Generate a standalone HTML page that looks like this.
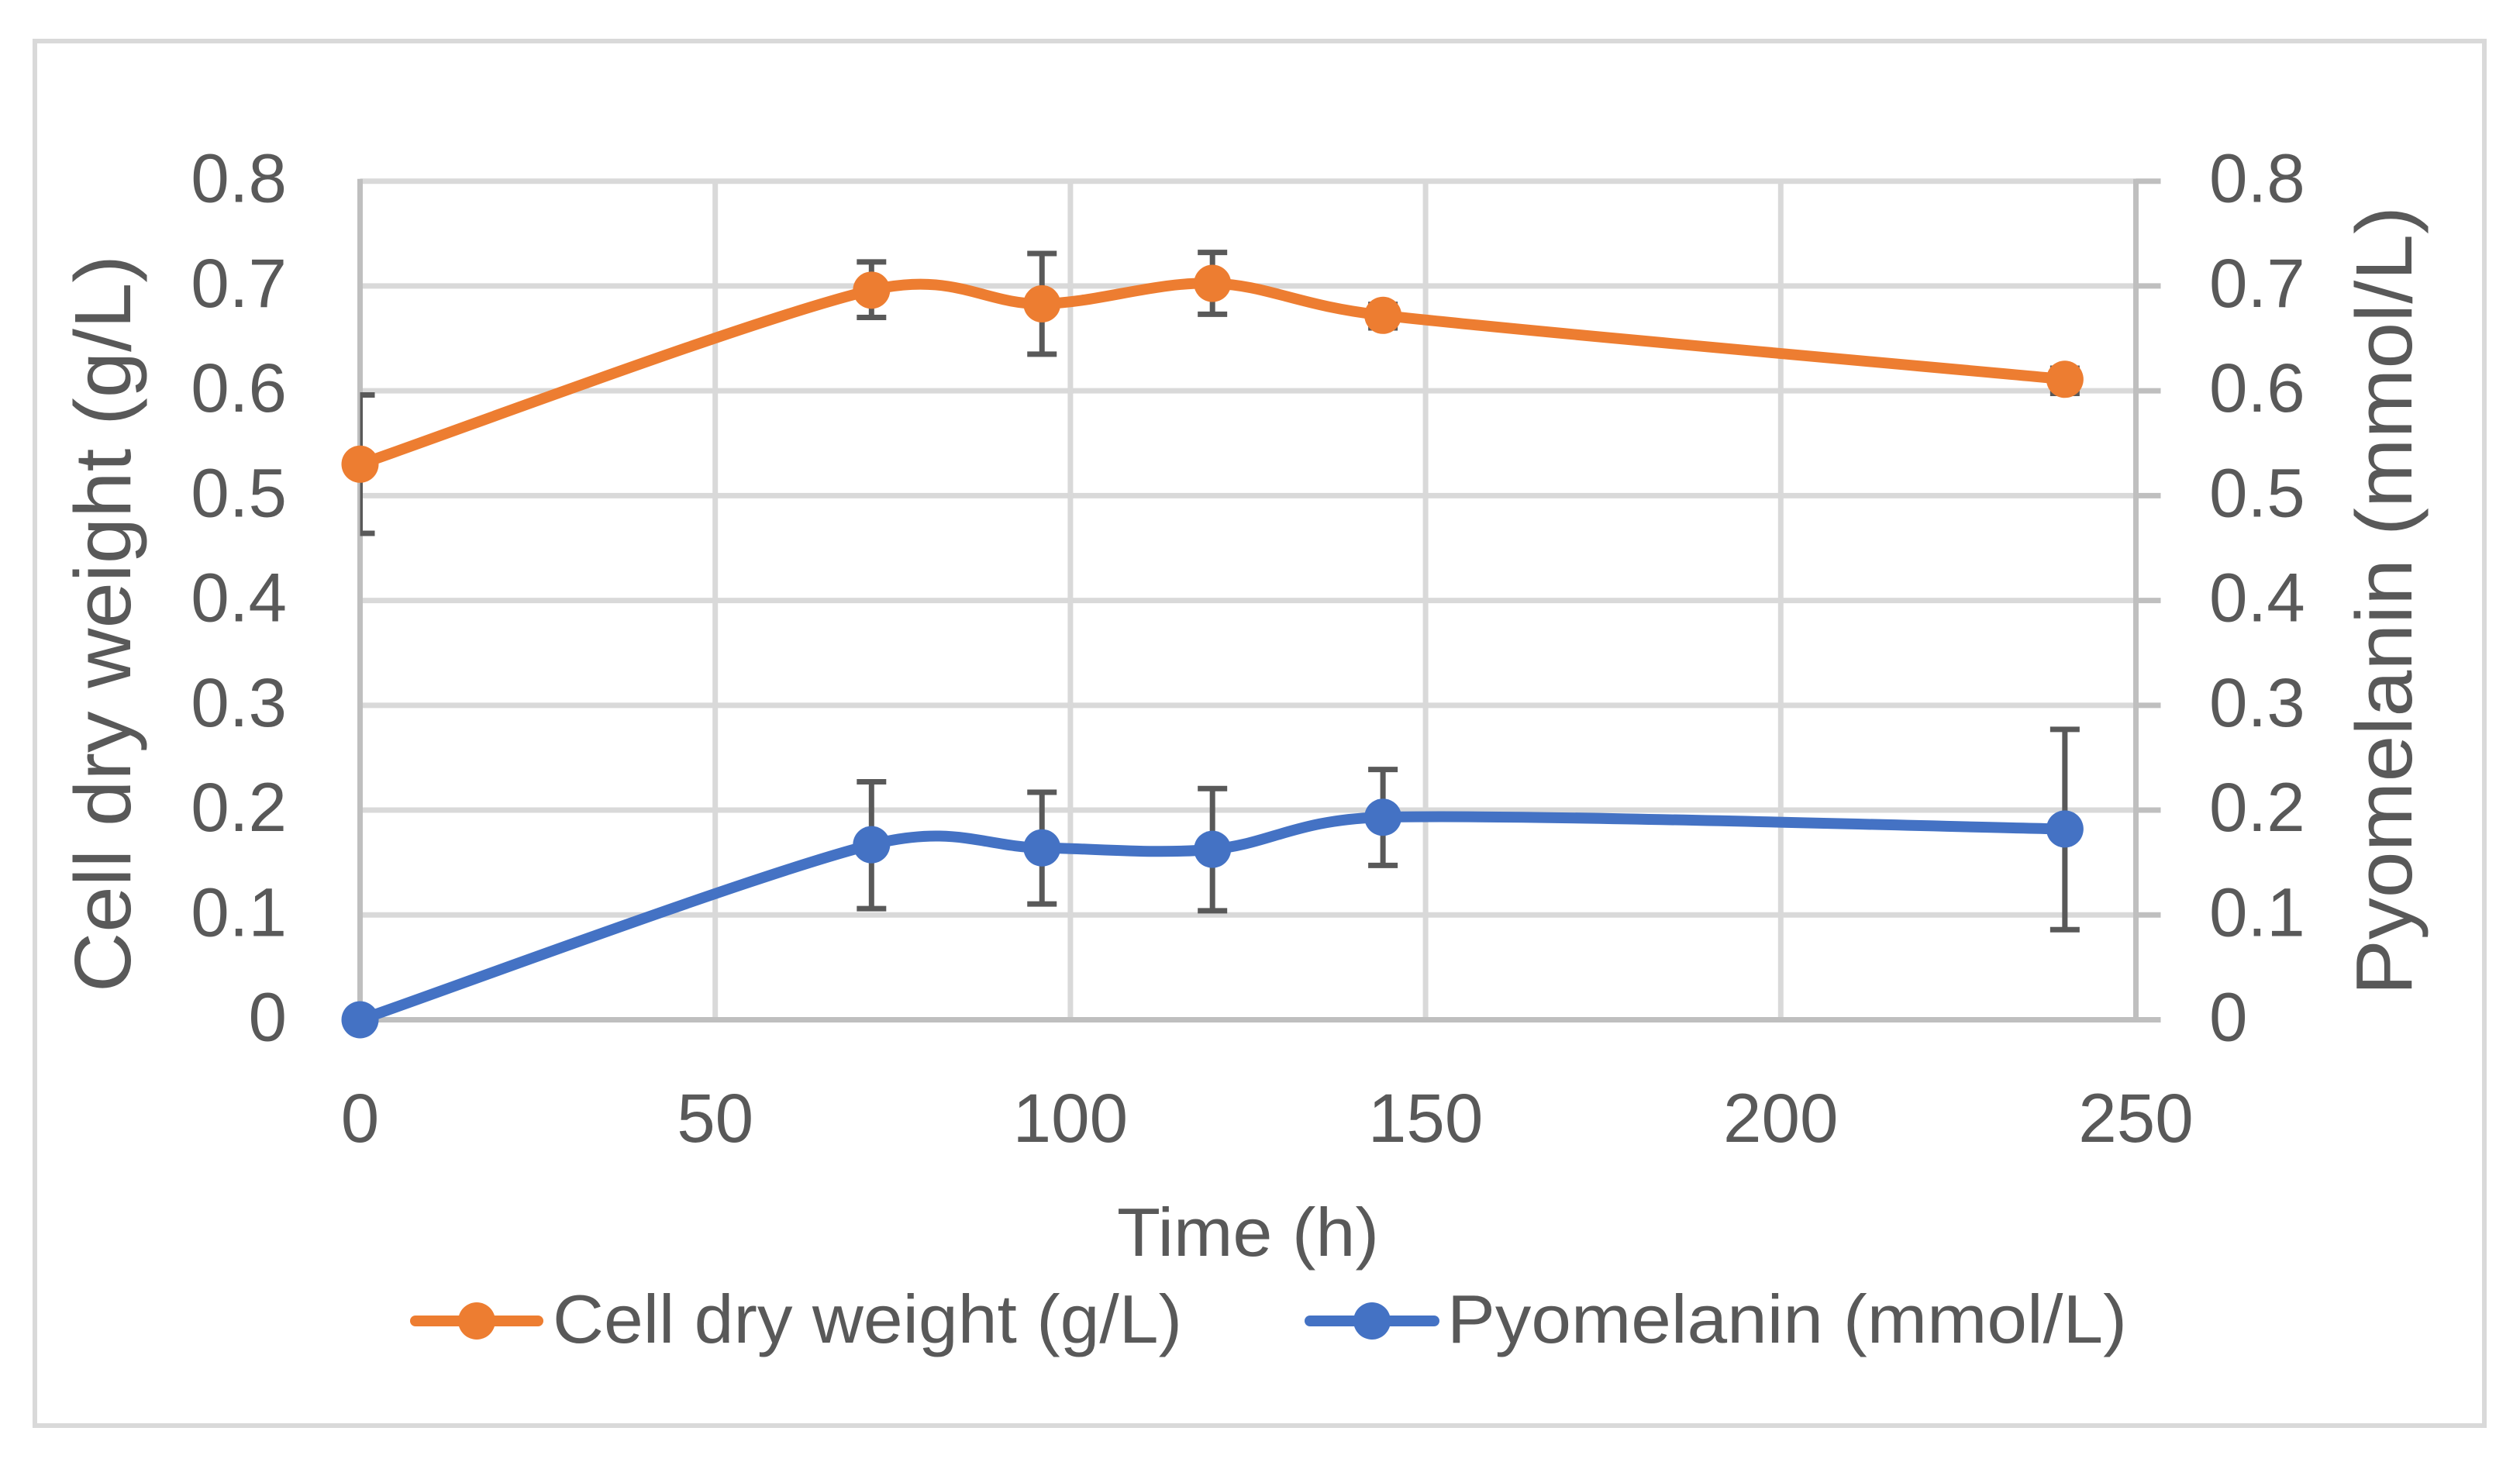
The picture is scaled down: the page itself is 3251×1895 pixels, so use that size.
<!DOCTYPE html>
<html lang="en">
<head>
<meta charset="utf-8">
<title>Cell dry weight and pyomelanin over time</title>
<style>
html,body{margin:0;padding:0;background:#fff;}
svg{display:block;}
text{font-family:"Liberation Sans",sans-serif;fill:#595959;}
</style>
</head>
<body>
<svg id="chart" xmlns="http://www.w3.org/2000/svg" width="3251" height="1895" viewBox="0 0 3251 1895">
  <defs>
    <clipPath id="plot-clip"><rect x="464.5" y="200" width="2330" height="1200"/></clipPath>
  </defs>
  <rect x="0" y="0" width="3251" height="1895" fill="#ffffff"/>
  <rect x="45" y="53" width="3160" height="1786" fill="#ffffff" stroke="#d9d9d9" stroke-width="6"/>
  <g id="grid"></g>
  <g id="axes"></g>
  <g id="labels"></g>
  <g id="errors" clip-path="url(#plot-clip)"></g>
  <g id="lines"></g>
  <g id="markers"></g>

  <text transform="translate(168,1280) rotate(-90)" font-size="103" textLength="951" lengthAdjust="spacingAndGlyphs">Cell dry weight (g/L)</text>
  <text transform="translate(3111,1284) rotate(-90)" font-size="103" textLength="1018" lengthAdjust="spacingAndGlyphs">Pyomelanin (mmol/L)</text>
  <text x="1441" y="1620" font-size="88" textLength="338" lengthAdjust="spacingAndGlyphs">Time (h)</text>

  <g>
    <g>
      <line x1="536" y1="1704" x2="694" y2="1704" stroke="#ed7d31" stroke-width="14" stroke-linecap="round"/>
      <circle cx="615" cy="1704" r="24" fill="#ed7d31"/>
      <text x="713" y="1732" font-size="88" textLength="812" lengthAdjust="spacingAndGlyphs">Cell dry weight (g/L)</text>
    </g>
    <g>
      <line x1="1690" y1="1704" x2="1850" y2="1704" stroke="#4472c4" stroke-width="14" stroke-linecap="round"/>
      <circle cx="1770" cy="1704" r="24" fill="#4472c4"/>
      <text x="1867" y="1732" font-size="88" textLength="877" lengthAdjust="spacingAndGlyphs">Pyomelanin (mmol/L)</text>
    </g>
  </g>
</svg>
<script>
// Chart data
const times = [0, 72, 96, 120, 144, 240];
const cellDryWeight = [0.53, 0.696, 0.683, 0.7025, 0.672, 0.611];
const cellDryWeightUpper = [0.596, 0.723, 0.731, 0.732, 0.6825, 0.6216];
const cellDryWeightLower = [0.464, 0.67, 0.635, 0.673, 0.66, 0.5975];
const pyomelanin = [0, 0.167, 0.164, 0.1626, 0.1932, 0.182];
const pyomelaninUpper = [0, 0.227, 0.217, 0.2206, 0.2388, 0.277];
const pyomelaninLower = [0, 0.106, 0.1105, 0.104, 0.1473, 0.086];
const xTicks = [0, 50, 100, 150, 200, 250];
const yTicks = [0, 0.1, 0.2, 0.3, 0.4, 0.5, 0.6, 0.7, 0.8];

const NS = 'http://www.w3.org/2000/svg';
const plotLeft = 464.5, plotRight = 2755.5, plotTop = 233.7, plotBottom = 1315.5;
const xMin = 0, xMax = 250, yMin = 0, yMax = 0.8;

function xScale(v) { return plotLeft + (v - xMin) / (xMax - xMin) * (plotRight - plotLeft); }
function yScale(v) { return plotBottom - (v - yMin) / (yMax - yMin) * (plotBottom - plotTop); }

function make(tag, attrs, parent) {
  const node = document.createElementNS(NS, tag);
  for (const k in attrs) node.setAttribute(k, attrs[k]);
  parent.appendChild(node);
  return node;
}

const grid = document.getElementById('grid');
const axes = document.getElementById('axes');
const labels = document.getElementById('labels');
const errors = document.getElementById('errors');
const lines = document.getElementById('lines');
const markers = document.getElementById('markers');

// Horizontal gridlines, right-axis tick marks, y tick labels
yTicks.forEach(function (t) {
  const y = yScale(t);
  if (t !== yMin) {
    const g = make('line', { x1: plotLeft, y1: y, x2: plotRight, y2: y, stroke: '#d9d9d9', 'stroke-width': 7 }, grid);
    
    
  }
  const tick = make('line', { x1: plotRight, y1: y, x2: plotRight + 32, y2: y, stroke: '#bfbfbf', 'stroke-width': 7 }, axes);
  
  

  const left = make('text', { x: 370, y: y + 27, 'font-size': 89, 'text-anchor': 'end' }, labels);
  left.textContent = String(t);
  
  

  const right = make('text', { x: 2850, y: y + 27, 'font-size': 89 }, labels);
  right.textContent = String(t);
  
  
});

// Vertical gridlines and x tick labels
xTicks.forEach(function (t) {
  const x = xScale(t);
  if (t !== xMin && t !== xMax) {
    const g = make('line', { x1: x, y1: plotTop, x2: x, y2: plotBottom, stroke: '#d9d9d9', 'stroke-width': 7 }, grid);
    
    
  }
  const label = make('text', { x: x, y: 1473, 'font-size': 89, 'text-anchor': 'middle' }, labels);
  label.textContent = String(t);
  
  
});

// Axis lines
const leftAxis = make('line', { x1: plotLeft, y1: plotTop - 3, x2: plotLeft, y2: plotBottom, stroke: '#bfbfbf', 'stroke-width': 7 }, axes);


const rightAxis = make('line', { x1: plotRight, y1: plotTop - 3, x2: plotRight, y2: plotBottom, stroke: '#bfbfbf', 'stroke-width': 7 }, axes);


const bottomAxis = make('line', { x1: plotLeft, y1: plotBottom, x2: plotRight + 32, y2: plotBottom, stroke: '#bfbfbf', 'stroke-width': 7 }, axes);



// Spreadsheet-style smoothing: Catmull-Rom handles capped at half of the segment length
function handle(from, prev, next, segLen) {
  const dx = (next[0] - prev[0]) / 6;
  const dy = (next[1] - prev[1]) / 6;
  const len = Math.hypot(dx, dy);
  const limit = segLen / 2;
  const k = len > limit && len > 0 ? limit / len : 1;
  return [dx * k, dy * k];
}

function smoothPath(xs, ys) {
  const pts = xs.map(function (v, i) { return [xScale(v), yScale(ys[i])]; });
  let d = 'M' + pts[0][0] + ' ' + pts[0][1];
  for (let i = 0; i < pts.length - 1; i++) {
    const p0 = pts[Math.max(i - 1, 0)];
    const p1 = pts[i];
    const p2 = pts[i + 1];
    const p3 = pts[Math.min(i + 2, pts.length - 1)];
    const seg = Math.hypot(p2[0] - p1[0], p2[1] - p1[1]);
    const h1 = handle(p1, p0, p2, seg);
    const h2 = handle(p2, p1, p3, seg);
    d += ' C' + (p1[0] + h1[0]) + ' ' + (p1[1] + h1[1]) + ' ' + (p2[0] - h2[0]) + ' ' + (p2[1] - h2[1]) + ' ' + p2[0] + ' ' + p2[1];
  }
  return d;
}

function drawErrors(xs, upper, lower) {
  xs.forEach(function (v, i) {
    if (upper[i] === lower[i]) return;
    const x = xScale(v);
    const yU = yScale(upper[i]);
    const yL = yScale(lower[i]);
    const stem = make('line', { x1: x, y1: yU, x2: x, y2: yL, stroke: '#595959', 'stroke-width': 7 }, errors);
    
    
    const capTop = make('line', { x1: x - 19, y1: yU, x2: x + 19, y2: yU, stroke: '#595959', 'stroke-width': 7 }, errors);
    
    
    const capBottom = make('line', { x1: x - 19, y1: yL, x2: x + 19, y2: yL, stroke: '#595959', 'stroke-width': 7 }, errors);
    
    
  });
}

drawErrors(times, cellDryWeightUpper, cellDryWeightLower);
drawErrors(times, pyomelaninUpper, pyomelaninLower);

const cellLine = make('path', { d: smoothPath(times, cellDryWeight), fill: 'none', stroke: '#ed7d31', 'stroke-width': 14, 'stroke-linecap': 'round', 'stroke-linejoin': 'round' }, lines);



const pyoLine = make('path', { d: smoothPath(times, pyomelanin), fill: 'none', stroke: '#4472c4', 'stroke-width': 14, 'stroke-linecap': 'round', 'stroke-linejoin': 'round' }, lines);



times.forEach(function (v, i) {
  const a = make('circle', { cx: xScale(v), cy: yScale(cellDryWeight[i]), r: 24, fill: '#ed7d31' }, markers);
  
  
  const b = make('circle', { cx: xScale(v), cy: yScale(pyomelanin[i]), r: 24, fill: '#4472c4' }, markers);
  
  
});
</script>
</body>
</html>
